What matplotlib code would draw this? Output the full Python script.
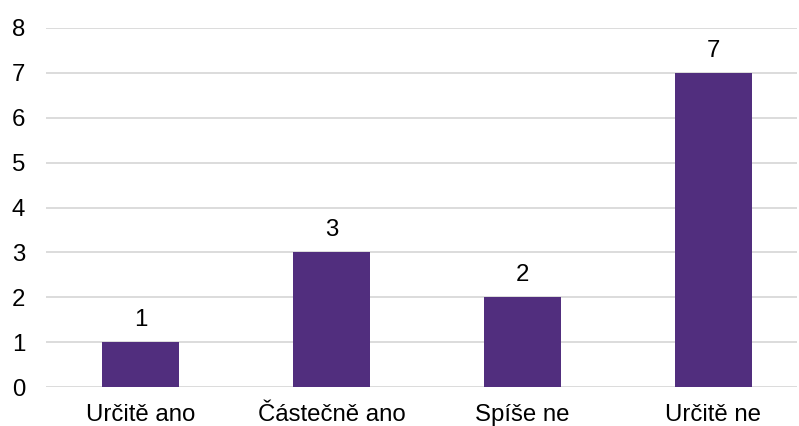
import matplotlib
matplotlib.use('Agg')
import matplotlib.pyplot as plt

categories = ['Určitě ano', 'Částečně ano', 'Spíše ne', 'Určitě ne']
counts = [1, 3, 2, 7]
yticks = [0, 1, 2, 3, 4, 5, 6, 7, 8]

plt.rcParams['font.family'] = ['Liberation Sans', 'DejaVu Sans']
fs = 17.3

fig = plt.figure(figsize=(7.99, 4.26), dpi=100)
ax = fig.add_axes([46 / 799, 39 / 426, 751 / 799, 359 / 426])

x = list(range(len(categories)))
bars = ax.bar(x, counts, width=0.404, color='#512E7E', zorder=3)
for rect, val in zip(bars, counts):
    ax.annotate(str(val), (rect.get_x() + rect.get_width() / 2, val),
                xytext=(0, 8), textcoords='offset points',
                ha='center', va='bottom', fontsize=fs, color='#000000')

ax.set_xlim(-0.498, 3.44)
ax.set_ylim(0, 8)
ax.set_yticks(yticks)
ax.set_xticks(x)
ax.set_xticklabels(categories, fontsize=fs)
ax.tick_params(axis='y', labelsize=fs, length=0, pad=15)
ax.tick_params(axis='x', length=0, pad=12)
ax.yaxis.grid(True, color='#D9D9D9', linewidth=1.3, zorder=0)
for s in ax.spines.values():
    s.set_visible(False)

fig.savefig('out.png', dpi=100)
